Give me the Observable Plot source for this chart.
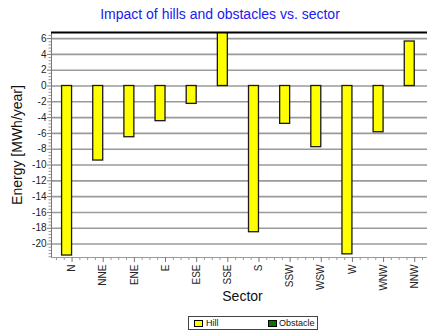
<!DOCTYPE html>
<html>
<head>
<meta charset="utf-8">
<script src="https://cdn.jsdelivr.net/npm/d3@7"></script>
<script src="https://cdn.jsdelivr.net/npm/@observablehq/plot@0.6"></script>
<style>
  html, body { margin: 0; padding: 0; background: #fff; }
  #chart { position: relative; width: 427px; height: 330px; overflow: hidden;
           font-family: "Liberation Sans", Arial, sans-serif; }
  #title { position: absolute; top: 6px; left: 0; width: 440px; text-align: center;
           font-size: 14px; line-height: 16px; color: #2020ee; }
  #plot { position: absolute; top: 24px; left: 0; }
  #legend { position: absolute; top: 316px; left: 188px; width: 128px; height: 12px;
            border: 1px solid #444; background: #fff; font-size: 9px; line-height: 12px; color: #111; }
  #legend .sw { position: absolute; top: 3px; width: 7px; height: 5px; border: 1px solid #000; }
  #legend .lb { position: absolute; top: 0; }
</style>
</head>
<body>
<div id="chart">
  <div id="title">Impact of hills and obstacles vs. sector</div>
  <div id="plot"></div>
  <div id="legend">
    <span class="sw" style="left:5px;background:#ffff00"></span><span class="lb" style="left:17px">Hill</span>
    <span class="sw" style="left:79px;background:#007a00"></span><span class="lb" style="left:90px">Obstacle</span>
  </div>
</div>
<script>
// Wind direction sectors (12 x 30°)
const sectors = ["N", "NNE", "ENE", "E", "ESE", "SSE", "S", "SSW", "WSW", "W", "WNW", "NNW"];
// Energy impact per sector [MWh/year]
const hill = [-21.45, -9.43, -6.48, -4.45, -2.26, 7.2, -18.5, -4.79, -7.74, -21.3, -5.85, 5.63];
const obstacle = [0, 0, 0, 0, 0, 0, 0, 0, 0, 0, 0, 0];
// Axis extents and labelled ticks
const yDomain = [-21.7, 6.77];
const xDomain = [-0.66, 11.41];
const yTicks = [6, 4, 2, 0, -2, -4, -6, -8, -10, -12, -14, -16, -18, -20];

const rows = sectors.map((s, i) => ({i, sector: s, hill: hill[i], obstacle: obstacle[i]}));
const barW = 0.32; // width of each series bar, in sector units

const yMinor = d3.range(-21.6, 6.8, 0.4).map(v => +v.toFixed(1)).filter(v => Math.abs(v % 2) > 0.01);
const xMinor = d3.range(-0.5, 11.5, 0.25).filter(v => !Number.isInteger(v));
const fmt = d => d < 0 ? "-" + Math.abs(d) : String(d);

const chart = Plot.plot({
  width: 427,
  height: 290,
  marginTop: 8,
  marginBottom: 57,
  marginLeft: 51,
  marginRight: 0,
  style: {fontFamily: "Liberation Sans, Arial, sans-serif", color: "#222", background: "transparent"},
  x: {type: "linear", domain: xDomain},
  y: {domain: yDomain},
  marks: [
    Plot.ruleY(yTicks, {stroke: "#9a9a9a", strokeWidth: 1.6}),
    Plot.rect(rows, {x1: d => d.i - barW, x2: d => d.i, y1: 0, y2: "hill",
      fill: "#ffff00", stroke: "#1a1a1a", strokeWidth: 1.3, clip: true}),
    Plot.rect(rows.filter(d => d.obstacle !== 0), {x1: d => d.i, x2: d => d.i + barW, y1: 0, y2: "obstacle",
      fill: "#007a00", stroke: "#1a1a1a", strokeWidth: 1.3, clip: true}),
    Plot.ruleX([xDomain[0]], {stroke: "#777", strokeWidth: 1}),
    Plot.ruleY([yDomain[0]], {stroke: "#999", strokeWidth: 1}),
    Plot.ruleY([yDomain[1]], {stroke: "#000", strokeWidth: 2}),
    Plot.axisY({ticks: yTicks, tickFormat: fmt, tickSize: 4, tickPadding: 1, fontSize: 10, label: null, stroke: "#777"}),
    Plot.axisY({ticks: yMinor, tickFormat: () => "", tickSize: 2.5, label: null, stroke: "#999"}),
    Plot.axisX({ticks: d3.range(sectors.length), tickFormat: i => sectors[i], tickRotate: -90,
      tickSize: 5, tickPadding: 2, fontSize: 10, label: null, stroke: "#777"}),
    Plot.axisX({ticks: xMinor, tickFormat: () => "", tickSize: 3, label: null, stroke: "#999"}),
    Plot.text(["Sector"], {frameAnchor: "bottom", lineAnchor: "top", dy: 34, dx: 3, fontSize: 14, fill: "#111"}),
    Plot.text(["Energy [MWh/year]"], {frameAnchor: "left", textAnchor: "middle", rotate: -90, dx: -33.5,
      fontSize: 14, fill: "#111"})
  ]
});
document.getElementById("plot").appendChild(chart);
</script>
</body>
</html>
